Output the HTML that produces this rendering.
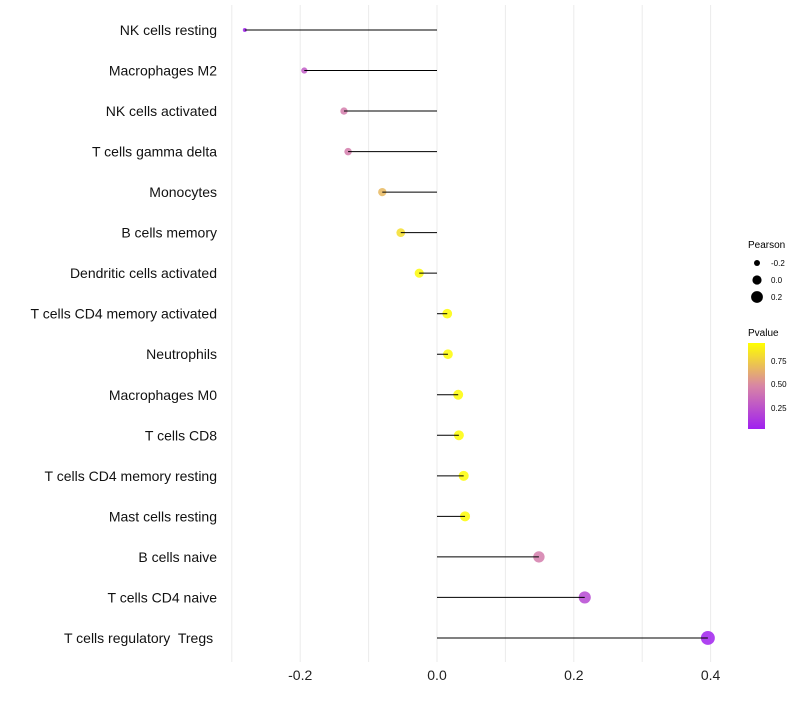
<!DOCTYPE html>
<html><head><meta charset="utf-8"><style>
body{margin:0;background:#fff;font-family:"Liberation Sans",sans-serif;}
svg text{font-family:"Liberation Sans",sans-serif;}
</style></head><body>
<svg id="chart" width="800" height="700">
<defs><linearGradient id="pg" x1="0" y1="1" x2="0" y2="0">
<stop offset="0" stop-color="#a020f0"/><stop offset="0.5" stop-color="#d885a5"/><stop offset="1" stop-color="#ffff00"/>
</linearGradient></defs>
<g id="grid"></g><g id="marks"></g><g id="labels"></g>
<g>
<text x="748" y="248" font-size="10">Pearson</text>
<circle cx="757" cy="263" r="3" fill="#000"/><text x="771" y="266" font-size="8">-0.2</text>
<circle cx="757" cy="280" r="4.6" fill="#000"/><text x="771" y="283" font-size="8">0.0</text>
<circle cx="757" cy="297" r="5.9" fill="#000"/><text x="771" y="300" font-size="8">0.2</text>
<text x="748" y="336" font-size="10">Pvalue</text>
<rect x="748" y="343" width="17" height="86" fill="url(#pg)"/>
<text x="771" y="364" font-size="8">0.75</text>
<text x="771" y="387" font-size="8">0.50</text>
<text x="771" y="411" font-size="8">0.25</text>
</g>
</svg>
<script>
const categories=["NK cells resting","Macrophages M2","NK cells activated","T cells gamma delta","Monocytes","B cells memory","Dendritic cells activated","T cells CD4 memory activated","Neutrophils","Macrophages M0","T cells CD8","T cells CD4 memory resting","Mast cells resting","B cells naive","T cells CD4 naive","T cells regulatory  Tregs "];
const pearson=[-0.281,-0.194,-0.136,-0.130,-0.080,-0.053,-0.026,0.015,0.016,0.031,0.032,0.039,0.041,0.149,0.216,0.396];
const pvalues=[0.05,0.3,0.45,0.45,0.68,0.82,0.92,0.93,0.93,0.93,0.93,0.93,0.93,0.45,0.22,0.05];
const xTicks=[-0.2,0.0,0.2,0.4];
const xMinor=[-0.3,-0.1,0.1,0.3];
const NS="http://www.w3.org/2000/svg";
const x=v=>437+v*684;
const y=i=>30+i*40.53;
const r=v=>Math.sqrt(Math.max(1,4+45*(v+0.28)/0.68));
function col(p){let t=Math.max(0,Math.min(1,(p-0.04)/0.9));
 const a=[160,32,240],m=[216,133,165],b=[255,255,0];let c;
 if(t<0.5){const u=t/0.5;c=a.map((v,k)=>v+(m[k]-v)*u);}else{const u=(t-0.5)/0.5;c=m.map((v,k)=>v+(b[k]-v)*u);}
 return `rgb(${c.map(Math.round).join(",")})`;}
function mk(tag,at,parent){const e=document.createElementNS(NS,tag);for(const k in at)e.setAttribute(k,at[k]);document.getElementById(parent).appendChild(e);return e;}
xMinor.concat(xTicks).forEach(v=>{const g=mk("line",{x1:x(v),x2:x(v),y1:5,y2:662,stroke:"#ebebeb","stroke-width":1},"grid");
 
 });
xTicks.forEach(v=>{const t=mk("text",{x:x(v),y:680,"font-size":14,"text-anchor":"middle",fill:"#222"},"labels");t.textContent=v.toFixed(1);
 
 });
categories.forEach((c,i)=>{
 const t=mk("text",{x:217,y:y(i)+5,"font-size":14,"text-anchor":"end",fill:"#111","xml:space":"preserve"},"labels");t.style.whiteSpace="pre";t.textContent=c;
 
 
 const d=mk("circle",{cx:x(pearson[i]),cy:y(i),r:r(pearson[i]),fill:col(pvalues[i]),"fill-opacity":0.85},"marks");
 
 
 const l=mk("line",{x1:x(0),x2:x(pearson[i]),y1:y(i),y2:y(i),stroke:"#000","stroke-width":1},"marks");
 
 
});
</script>
</body></html>
